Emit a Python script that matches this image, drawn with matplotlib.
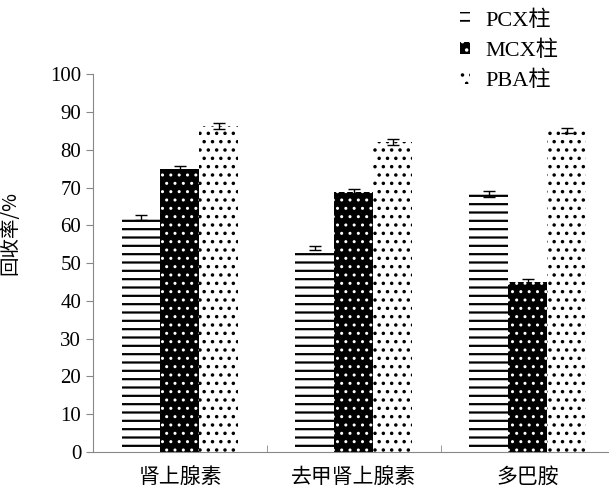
import numpy as np
import matplotlib
matplotlib.use('Agg')
import matplotlib.pyplot as plt

plt.rcParams['font.family'] = ['Liberation Serif', 'Noto Sans CJK SC']

categories = ['肾上腺素', '去甲肾上腺素', '多巴胺']
series = ['PCX柱', 'MCX柱', 'PBA柱']
pcx = [62.0, 54.0, 68.3]
mcx = [75.0, 68.8, 45.0]
pba = [86.3, 82.0, 85.0]
pcx_err = [0.7, 0.6, 0.8]
mcx_err = [0.7, 0.8, 0.8]
pba_err = [0.7, 0.8, 0.7]

fig = plt.figure(figsize=(6.09, 4.90), dpi=100)
ax = fig.add_axes([0.1527, 0.0776, 0.8473, 0.771])

x = np.arange(len(categories))
w = 0.224
grey = '#888888'

# hatch linewidth is picked up when each patch is made
plt.rcParams['hatch.linewidth'] = 1.6
ax.bar(x - w, pcx, w, facecolor='white', edgecolor='black', linewidth=0,
       hatch='--', label=series[0])
plt.rcParams['hatch.linewidth'] = 1.0
ax.bar(x, mcx, w, facecolor='black', edgecolor='white', linewidth=0,
       hatch='..', label=series[1])
plt.rcParams['hatch.linewidth'] = 1.3
ax.bar(x + w, pba, w, facecolor='white', edgecolor='black', linewidth=0,
       hatch='..', label=series[2])

for off, vals, errs in [(-w, pcx, pcx_err), (0, mcx, mcx_err), (w, pba, pba_err)]:
    ax.errorbar(x + off, vals, yerr=errs, fmt='none', ecolor='black',
                elinewidth=1, capsize=4, capthick=1)

ax.set_xlim(-0.5, 2.466)
ax.set_ylim(0, 100)
ax.set_yticks(np.arange(0, 101, 10))
ax.tick_params(axis='y', labelsize=15, color=grey, length=5, direction='out')
ax.set_xticks(x)
ax.set_xticklabels(categories, fontsize=15, family=['Noto Sans CJK SC'])
ax.tick_params(axis='x', length=0, pad=10)
ax.set_xticks([0.5, 1.5], minor=True)
ax.tick_params(axis='x', which='minor', length=5, color=grey, direction='in')

for s in ['top', 'right']:
    ax.spines[s].set_visible(False)
for s in ['left', 'bottom']:
    ax.spines[s].set_color(grey)

ax.set_ylabel('回收率/%', fontsize=14, family=['Noto Sans CJK SC'])
ax.yaxis.set_label_coords(-0.14, 0.58)

fig.legend(loc='upper left', bbox_to_anchor=(0.722, 1.02), frameon=False,
           fontsize=16, handlelength=0.45, handleheight=0.45, handletextpad=0.7,
           labelspacing=0.45)

fig.savefig('out.png', dpi=100)
